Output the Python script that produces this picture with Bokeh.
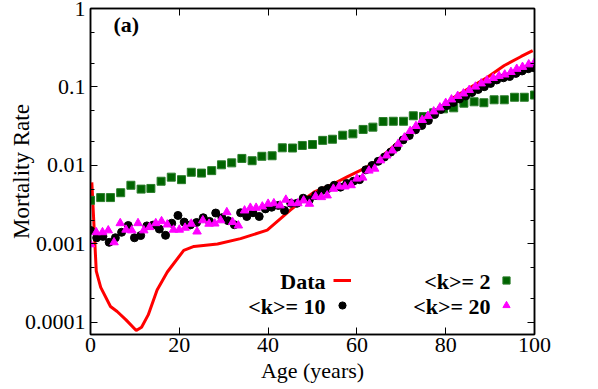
import math
from bokeh.plotting import figure
from bokeh.models import (FixedTicker, LinearAxis, LogAxis, Label, Legend, LegendItem,
                          CustomJSTickFormatter, Range1d)
from bokeh.core.properties import value
from bokeh.embed import file_html
from bokeh.resources import INLINE

# ---------------- data ----------------
AGE_DATA = [0.3, 1.3, 2.3, 4.5, 6.0, 8.0, 10.3, 11.5, 13.0, 15.0, 17.3, 21.0, 23.3, 28.6,
            33.8, 39.8, 42.8, 45.0, 46.6, 50.4, 54.1, 57.9, 61.6, 64.6, 70.6, 74.4, 78.2,
            81.9, 85.7, 89.4, 93.2, 97.0, 99.6]
RATE_DATA = [0.0061, 0.00045, 0.00028, 0.00016, 0.000138, 0.000108, 0.000079, 0.000087,
             0.000125, 0.00026, 0.00044, 0.00083, 0.00093, 0.0010, 0.00117, 0.0015, 0.0021,
             0.0027, 0.0032, 0.0046, 0.0056, 0.0072, 0.0091, 0.0116, 0.023, 0.034, 0.050,
             0.074, 0.100, 0.133, 0.188, 0.245, 0.29]

AGE_K2 = [0, 2.3, 4.5, 6.8, 9.1, 11.4, 13.6, 15.9, 18.2, 20.5, 22.7, 25.0, 27.3, 29.5, 31.8,
          34.1, 36.4, 38.6, 40.9, 43.2, 45.5, 47.7, 50.0, 52.3, 54.5, 56.8, 59.1, 61.4, 63.6,
          65.9, 68.2, 70.5, 72.7, 75.0, 77.3, 79.5, 81.8, 84.1, 86.4, 88.6, 90.9, 93.2, 95.5,
          97.7, 100.0]
RATE_K2 = [0.0036, 0.0039, 0.0039, 0.0045, 0.0056, 0.0050, 0.0051, 0.0063, 0.0071, 0.0066,
           0.0082, 0.0080, 0.0086, 0.0102, 0.0108, 0.0123, 0.0115, 0.0131, 0.0133, 0.0168,
           0.0167, 0.0180, 0.0185, 0.0209, 0.0216, 0.0243, 0.0253, 0.0288, 0.0308, 0.0363,
           0.0366, 0.0366, 0.0430, 0.0420, 0.0469, 0.0527, 0.0543, 0.0622, 0.0648, 0.0630,
           0.0687, 0.0687, 0.0740, 0.0740, 0.0790]

AGE_K10 = [0, 1.4, 2.8, 4.2, 5.6, 7.0, 8.5, 9.9, 11.3, 12.7, 14.1, 15.5, 16.9, 18.3, 19.7,
           21.1, 22.5, 23.9, 25.4, 26.8, 28.2, 29.6, 31.0, 32.4, 33.8, 35.2, 36.6, 38.0, 39.4,
           40.8, 42.3, 43.7, 45.1, 46.5, 47.9, 49.3, 50.7, 52.1, 53.5, 54.9, 56.3, 57.7, 59.2,
           60.6, 62.0, 63.4, 64.8, 66.2, 67.6, 69.0, 70.4, 71.8, 73.2, 74.6, 76.1, 77.5, 78.9,
           80.3, 81.7, 83.1, 84.5, 85.9, 87.3, 88.7, 90.1, 91.5, 93.0, 94.4, 95.8, 97.2, 98.6,
           100.0]
RATE_K10 = [0.00149, 0.00120, 0.00125, 0.00105, 0.00120, 0.00141, 0.00172, 0.00120, 0.00128,
            0.00170, 0.00174, 0.00155, 0.00129, 0.00184, 0.00231, 0.00190, 0.00175, 0.00188,
            0.00216, 0.00194, 0.00248, 0.00216, 0.00198, 0.00176, 0.00250, 0.00224, 0.00250,
            0.00224, 0.00280, 0.00294, 0.00310, 0.00267, 0.00330, 0.00330, 0.00383, 0.00366,
            0.00415, 0.00480, 0.00510, 0.00560, 0.00530, 0.00590, 0.00630, 0.00660, 0.00880,
            0.0100, 0.0113, 0.0128, 0.0148, 0.0171, 0.0212, 0.0241, 0.0285, 0.0323, 0.0374,
            0.0446, 0.0517, 0.0580, 0.0635, 0.0704, 0.0768, 0.0850, 0.0930, 0.101, 0.111,
            0.123, 0.131, 0.136, 0.149, 0.160, 0.171, 0.175]

AGE_K20 = [0, 1.3, 2.7, 4.0, 5.3, 6.7, 8.0, 9.3, 10.7, 12.0, 13.3, 14.7, 16.0, 17.3, 18.7,
           20.0, 21.3, 22.7, 24.0, 25.3, 26.7, 28.0, 29.3, 30.7, 32.0, 33.3, 34.7, 36.0, 37.3,
           38.7, 40.0, 41.3, 42.7, 44.0, 45.3, 46.7, 48.0, 49.3, 50.7, 52.0, 53.3, 54.7, 56.0,
           57.3, 58.7, 60.0, 61.3, 62.7, 64.0, 65.3, 66.7, 68.0, 69.3, 70.7, 72.0, 73.3, 74.7,
           76.0, 77.3, 78.7, 80.0, 81.3, 82.7, 84.0, 85.3, 86.7, 88.0, 89.3, 90.7, 92.0, 93.3,
           94.7, 96.0, 97.3, 98.7, 100.0]
RATE_K20 = [0.00099, 0.00141, 0.00141, 0.00149, 0.00105, 0.00184, 0.00152, 0.00149, 0.00184,
            0.00149, 0.00164, 0.00184, 0.00195, 0.00177, 0.00152, 0.00152, 0.00161, 0.00181,
            0.00144, 0.00200, 0.00181, 0.00182, 0.00200, 0.00254, 0.00190, 0.00172, 0.00267,
            0.00289, 0.00289, 0.00300, 0.00325, 0.00330, 0.00310, 0.00366, 0.00330, 0.00330,
            0.00358, 0.00325, 0.00403, 0.00395, 0.00415, 0.00505, 0.00540, 0.00540, 0.00560,
            0.00680, 0.00700, 0.00860, 0.00910, 0.0116, 0.0134, 0.0155, 0.0189, 0.0227, 0.0275,
            0.0318, 0.0380, 0.0428, 0.0488, 0.0548, 0.0625, 0.0693, 0.0768, 0.0826, 0.0916,
            0.101, 0.111, 0.121, 0.130, 0.138, 0.144, 0.155, 0.170, 0.180, 0.194, 0.205]

X_TICKS = [0, 20, 40, 60, 80, 100]
Y_TICKS = [0.0001, 0.001, 0.01, 0.1, 1]
Y_TICK_LABELS = ["0.0001", "0.001", "0.01", "0.1", "1"]
Y_MINOR = [0.0002, 0.0005, 0.002, 0.005, 0.02, 0.05, 0.2, 0.5]

LABEL_DATA = "Data"
LABEL_K2 = "<k>= 2"
LABEL_K10 = "<k>= 10"
LABEL_K20 = "<k>= 20"
PANEL = "(a)"
X_TITLE = "Age (years)"
Y_TITLE = "Mortality Rate"

FONT = "Liberation Serif"
FS = "22px"

# ---------------- figure ----------------
p = figure(width=598, height=389, output_backend="svg", toolbar_location=None,
           y_axis_type="log", x_range=Range1d(0, 100), y_range=Range1d(7.03e-5, 1),
           min_border_left=90, min_border_right=64, min_border_top=8, min_border_bottom=55)
p.background_fill_color = "white"
p.border_fill_color = "white"
p.outline_line_color = "black"
p.outline_line_width = 1.5
p.grid.visible = False

xticker = FixedTicker(ticks=X_TICKS, minor_ticks=[])
yticker = FixedTicker(ticks=Y_TICKS, minor_ticks=Y_MINOR)
yfmt = CustomJSTickFormatter(args=dict(ytv=Y_TICKS, ytl=Y_TICK_LABELS), code="""
const i = ytv.findIndex(t => Math.abs(Math.log10(t) - Math.log10(tick)) < 1e-6);
return i >= 0 ? ytl[i] : '';
""")
blank = CustomJSTickFormatter(code="return '';")


def style_axis(ax, show_labels):
    ax.major_tick_in = 7
    ax.major_tick_out = 0
    ax.minor_tick_in = 4
    ax.minor_tick_out = 0
    ax.axis_line_color = "black"
    ax.axis_line_width = 1.5
    ax.major_tick_line_color = "black"
    ax.minor_tick_line_color = "black"
    ax.major_tick_line_width = 1
    ax.minor_tick_line_width = 1
    if show_labels:
        ax.major_label_text_font = FONT
        ax.major_label_text_font_size = FS
        ax.major_label_text_color = "black"
        ax.axis_label_text_font = FONT
        ax.axis_label_text_font_size = FS
        ax.axis_label_text_font_style = "normal"
        ax.axis_label_text_color = "black"
    else:
        ax.formatter = blank
        ax.major_label_text_font_size = "0px"
        ax.major_label_standoff = 0


xa = p.xaxis[0]
xa.ticker = xticker
style_axis(xa, True)
xa.major_label_standoff = 3
xa.minor_tick_line_color = None
xa.axis_label = X_TITLE
xa.axis_label_standoff = 3

ya = p.yaxis[0]
ya.ticker = yticker
ya.formatter = yfmt
style_axis(ya, True)
ya.major_label_standoff = 5
ya.axis_label = Y_TITLE
ya.axis_label_text_font_size = "23px"
ya.axis_label_standoff = -12

top = LinearAxis(ticker=FixedTicker(ticks=X_TICKS, minor_ticks=[]))
style_axis(top, False)
top.minor_tick_line_color = None
p.add_layout(top, "above")

right = LogAxis(ticker=FixedTicker(ticks=Y_TICKS, minor_ticks=Y_MINOR))
style_axis(right, False)
p.add_layout(right, "right")

# ---------------- glyphs ----------------
r_data = p.line(AGE_DATA, RATE_DATA, line_color="#ff0000", line_width=3)
r_k2 = p.scatter(AGE_K2, RATE_K2, marker="square", size=8,
                 fill_color="#006400", line_color="#2a7d2a", line_width=1)
r_k10 = p.scatter(AGE_K10, RATE_K10, marker="circle", size=8,
                  fill_color="black", line_color="black")
r_k20 = p.scatter(AGE_K20, RATE_K20, marker="triangle", size=8.5,
                  fill_color="#ff00ff", line_color="#ff00ff")

# ---------------- legend (keys) ----------------
def key_legend(renderers, loc):
    lg = Legend(items=[LegendItem(label=value(" "), renderers=[r]) for r in renderers],
                location=loc, orientation="vertical", glyph_width=18, glyph_height=20,
                label_height=20, label_width=0, spacing=5, padding=0, margin=0,
                border_line_alpha=0, background_fill_alpha=0, label_standoff=0,
                label_text_font_size="1px")
    p.add_layout(lg)


key_legend([r_data, r_k10], (243, 19))
key_legend([r_k2, r_k20], (407, 19))


def lab(text, x, y, **kw):
    opts = dict(x=x, y=y, x_units="screen", y_units="screen", text=text,
                text_font=FONT, text_font_size=FS, text_color="black",
                text_baseline="bottom")
    opts.update(kw)
    p.add_layout(Label(**opts))


lab(LABEL_DATA, 235, 41, text_align="right", text_font_style="bold")
lab(LABEL_K10, 235, 16, text_align="right", text_font_style="bold")
lab(LABEL_K2, 400, 41, text_align="right", text_font_style="bold")
lab(LABEL_K20, 400, 16, text_align="right", text_font_style="bold")
lab(PANEL, 23, 298, text_align="left", text_font_style="bold")

open("out.html", "w").write(file_html(p, INLINE))
